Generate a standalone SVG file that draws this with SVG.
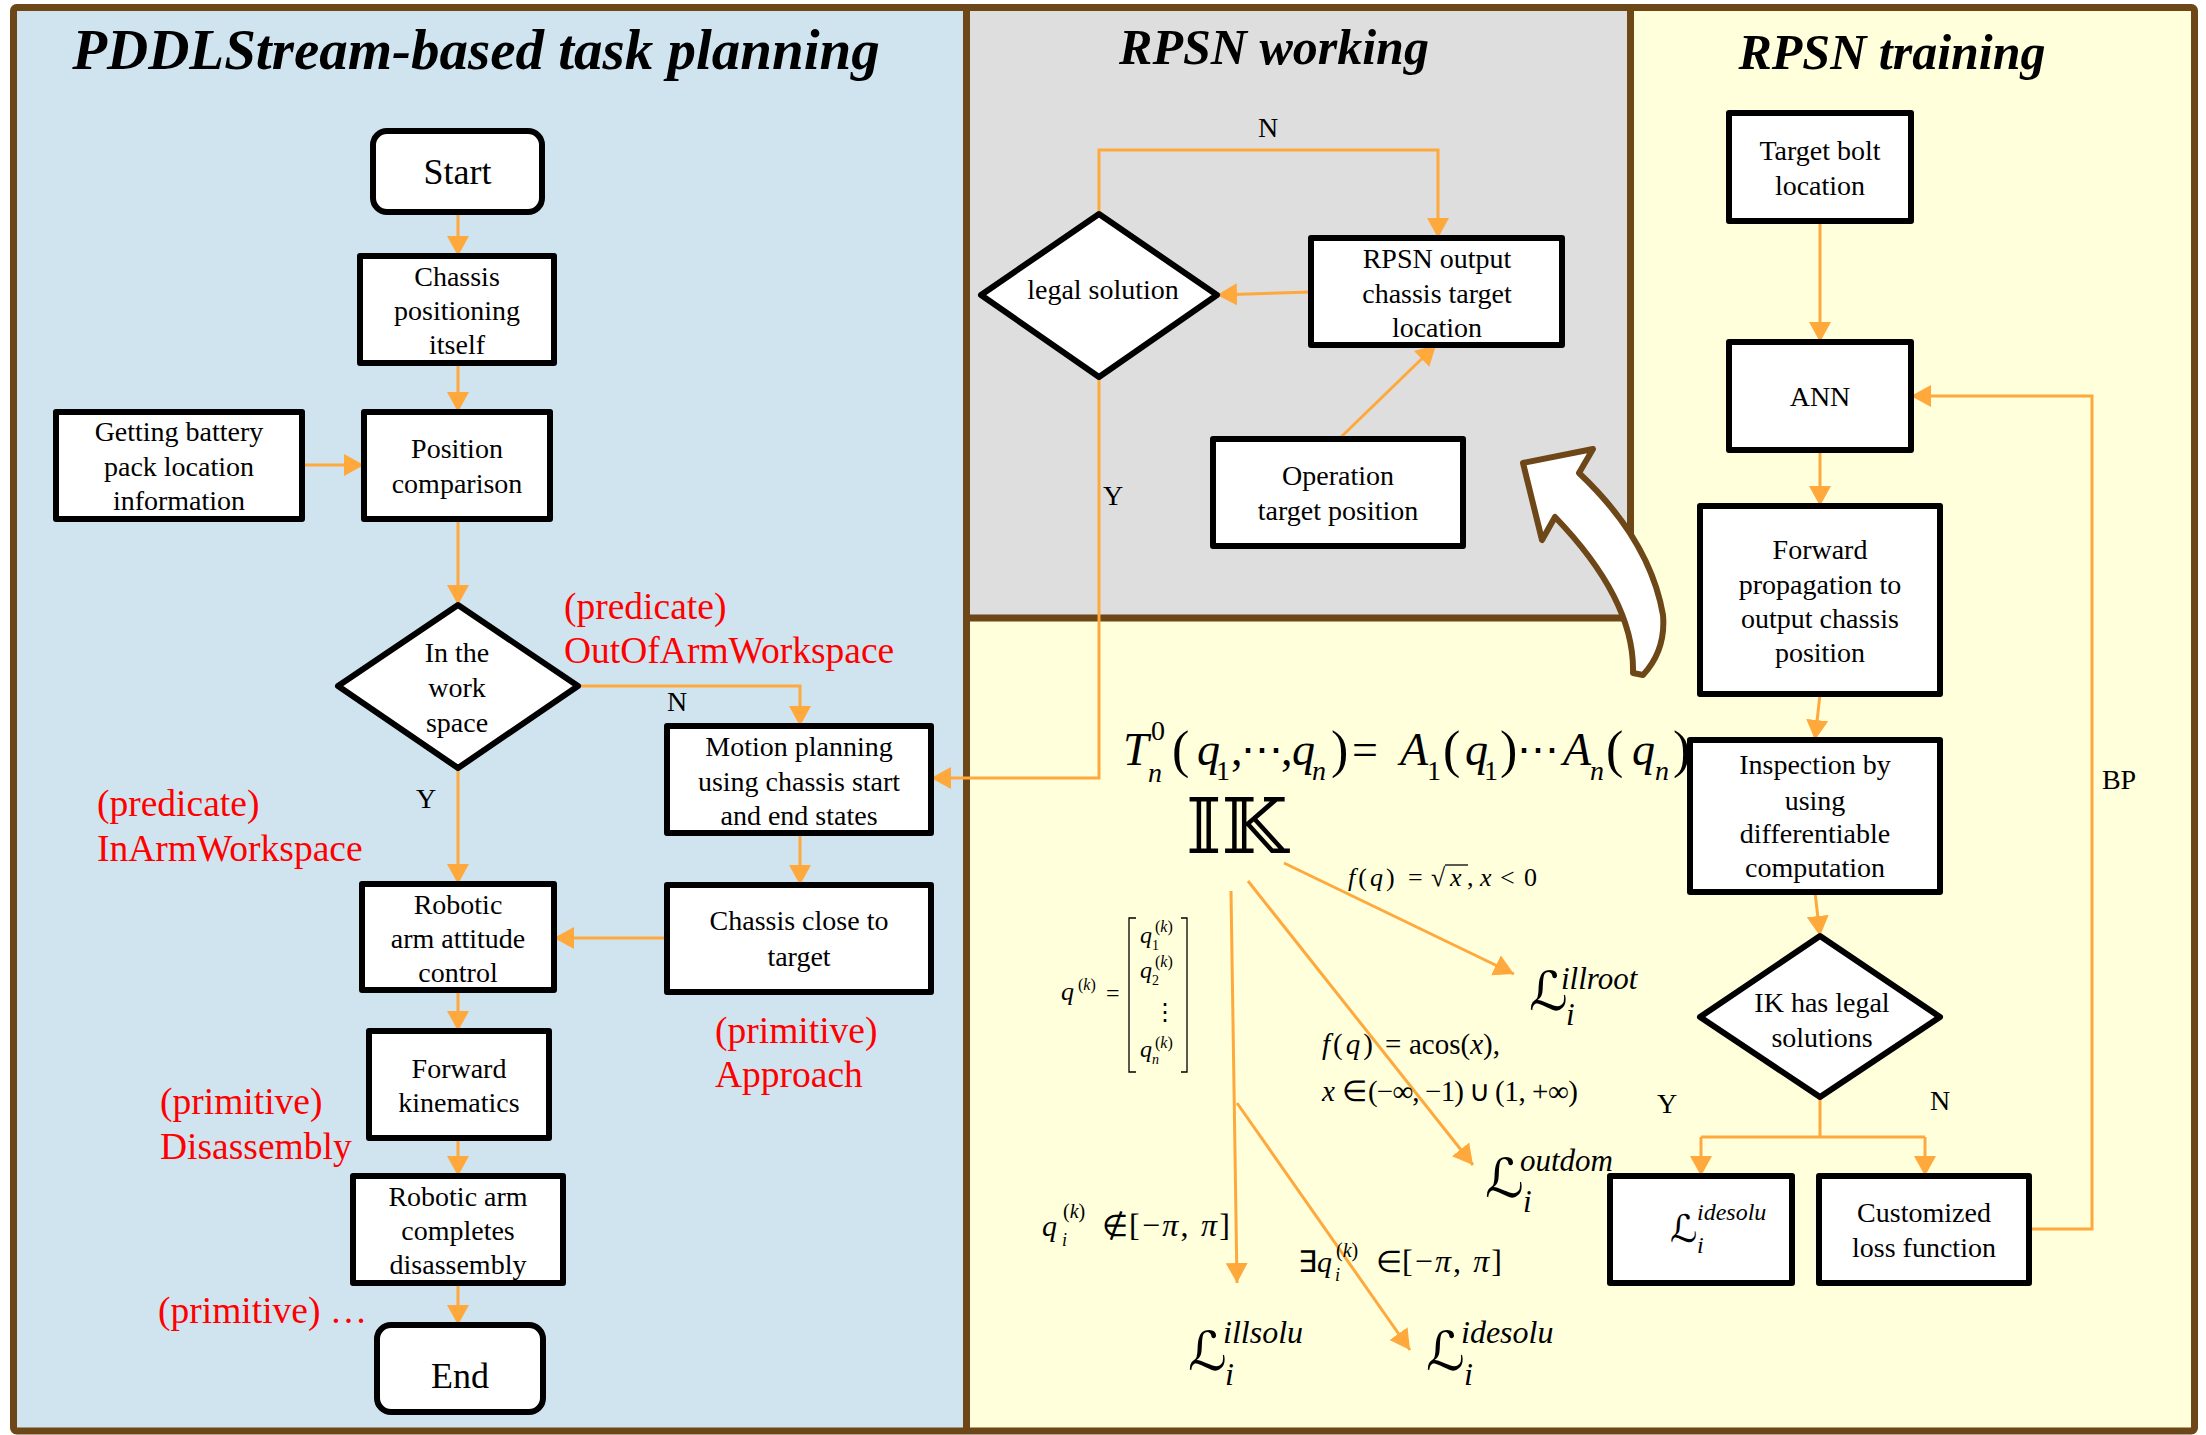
<svg xmlns="http://www.w3.org/2000/svg" width="2206" height="1435" viewBox="0 0 2206 1435">
<defs>
<style>
.bx{fill:#fff;stroke:#000;stroke-width:6;stroke-linejoin:round}
.t{font-family:"Liberation Serif","Times New Roman",serif;font-size:28px;text-anchor:middle;fill:#000}
.big{font-size:36px}
.r{font-family:"Liberation Serif","Times New Roman",serif;font-size:37.5px;fill:#FF0000}
.ttl{font-family:"Liberation Serif","Times New Roman",serif;font-weight:bold;font-style:italic;text-anchor:middle;fill:#000}
.c{fill:none;stroke:#FFA83C;stroke-width:3}
.ca{fill:none;stroke:#FFA83C;stroke-width:3;marker-end:url(#ah)}
.m{font-family:"Liberation Serif","Times New Roman",serif;fill:#000}
.i{font-style:italic}
.L{font-family:"DejaVu Serif","DejaVu Sans",serif;fill:#000;font-style:italic}
</style>
<marker id="ah" markerUnits="userSpaceOnUse" markerWidth="24" markerHeight="24" refX="20" refY="11" orient="auto"><path d="M0,0 L20,11 L0,22 Z" fill="#FFA83C"/></marker>
</defs>

<g id="panels">
<rect x="13.5" y="7.5" width="953" height="1423.5" fill="#D0E4F0"/>
<rect x="966.5" y="7.5" width="1228" height="1423.5" fill="#FFFFDC"/>
<rect x="966.5" y="7.5" width="664" height="610.5" fill="#DEDEDE"/>
<rect x="13.5" y="7.5" width="2181" height="1423.5" rx="3" fill="none" stroke="#6D4717" stroke-width="7"/>
<path d="M966.5,7.5 V1431 M1630.5,7.5 V618 H966.5" fill="none" stroke="#6D4717" stroke-width="7"/>
<text class="ttl" x="476" y="69" font-size="57">PDDLStream-based task planning</text>
<text class="ttl" x="1274" y="64" font-size="50">RPSN working</text>
<text class="ttl" x="1892" y="69" font-size="50">RPSN training</text>
</g>

<g id="big-arrow">
<path d="M1523,463 L1593,449 L1579,473 Q1650,540 1663,615 Q1666,650 1643,675 L1633,673 Q1635,600 1555,517 L1542,540 Z" fill="#fff" stroke="#6D4717" stroke-width="6" stroke-linejoin="round"/>
</g>

<g id="connectors">
<path class="ca" d="M458,212 V256"/>
<path class="ca" d="M458,363 V412"/>
<path class="ca" d="M302,465 H364"/>
<path class="ca" d="M458,519 V605"/>
<path class="ca" d="M578,686 H800 V726"/>
<path class="ca" d="M458,768 V884"/>
<path class="ca" d="M800,833 V885"/>
<path class="ca" d="M667,938 H554"/>
<path class="ca" d="M458,990 V1031"/>
<path class="ca" d="M458,1138 V1176"/>
<path class="ca" d="M458,1283 V1325"/>
<path class="ca" d="M1099,214 V150 H1438 V238"/>
<path class="ca" d="M1311,292 L1217,295"/>
<path class="ca" d="M1339,439 L1436,345"/>
<path class="ca" d="M1099,377 V778 H931"/>
<path class="ca" d="M1820,221 V342"/>
<path class="ca" d="M1820,450 V506"/>
<path class="ca" d="M1820,694 L1815,740"/>
<path class="ca" d="M1815,892 L1820,936"/>
<path class="c" d="M1820,1097 V1137 M1701,1137 H1925"/>
<path class="ca" d="M1701,1137 V1176"/>
<path class="ca" d="M1925,1137 V1176"/>
<path class="ca" d="M2029,1229 H2092 V396 H1911"/>
<path class="ca" d="M1284,863 L1514,974"/>
<path class="ca" d="M1248,881 L1473,1165"/>
<path class="ca" d="M1231,891 L1237,1283"/>
<path class="ca" d="M1237,1103 L1410,1350"/>
</g>

<g id="conn-labels" class="t">
<text x="677" y="711">N</text>
<text x="426" y="808">Y</text>
<text x="1268" y="137">N</text>
<text x="1113" y="505">Y</text>
<text x="1667" y="1113">Y</text>
<text x="1940" y="1110">N</text>
<text x="2119" y="789">BP</text>
</g>

<g id="n-start"><rect class="bx" x="373" y="131" width="169" height="81" rx="14"/><text class="t big" x="457.5" y="184">Start</text></g>
<g id="n-chassis-pos"><rect class="bx" x="360" y="256" width="194" height="107"/><text class="t"><tspan x="457" y="286">Chassis</tspan><tspan x="457" y="320">positioning</tspan><tspan x="457" y="354">itself</tspan></text></g>
<g id="n-battery"><rect class="bx" x="56" y="412" width="246" height="107"/><text class="t"><tspan x="179" y="441">Getting battery</tspan><tspan x="179" y="476">pack location</tspan><tspan x="179" y="510">information</tspan></text></g>
<g id="n-poscomp"><rect class="bx" x="364" y="412" width="186" height="107"/><text class="t"><tspan x="457" y="458">Position</tspan><tspan x="457" y="493">comparison</tspan></text></g>
<g id="n-workspace"><path class="bx" d="M458,605 L578,686 L458,768 L338,686 Z"/><text class="t"><tspan x="457" y="662">In the</tspan><tspan x="457" y="697">work</tspan><tspan x="457" y="732">space</tspan></text></g>
<g id="n-motion"><rect class="bx" x="667" y="726" width="264" height="107"/><text class="t"><tspan x="799" y="756">Motion planning</tspan><tspan x="799" y="791">using chassis start</tspan><tspan x="799" y="825">and end states</tspan></text></g>
<g id="n-close"><rect class="bx" x="667" y="885" width="264" height="107"/><text class="t"><tspan x="799" y="930">Chassis close to</tspan><tspan x="799" y="966">target</tspan></text></g>
<g id="n-attitude"><rect class="bx" x="362" y="884" width="192" height="106"/><text class="t"><tspan x="458" y="914">Robotic</tspan><tspan x="458" y="948">arm attitude</tspan><tspan x="458" y="982">control</tspan></text></g>
<g id="n-fk"><rect class="bx" x="369" y="1031" width="180" height="107"/><text class="t"><tspan x="459" y="1078">Forward</tspan><tspan x="459" y="1112">kinematics</tspan></text></g>
<g id="n-complete"><rect class="bx" x="353" y="1176" width="210" height="107"/><text class="t"><tspan x="458" y="1206">Robotic arm</tspan><tspan x="458" y="1240">completes</tspan><tspan x="458" y="1274">disassembly</tspan></text></g>
<g id="n-end"><rect class="bx" x="377" y="1325" width="166" height="87" rx="14"/><text class="t big" x="460" y="1388">End</text></g>

<g id="red-labels" class="r">
<text x="564" y="619">(predicate)</text>
<text x="564" y="663">OutOfArmWorkspace</text>
<text x="97" y="816">(predicate)</text>
<text x="97" y="861">InArmWorkspace</text>
<text x="715" y="1043">(primitive)</text>
<text x="715" y="1087">Approach</text>
<text x="160" y="1114">(primitive)</text>
<text x="160" y="1159">Disassembly</text>
<text x="158" y="1323">(primitive) …</text>
</g>

<g id="n-legal"><path class="bx" d="M1099,214 L1217,295 L1099,377 L981,295 Z"/><text class="t" x="1103" y="299">legal solution</text></g>
<g id="n-rpsn-out"><rect class="bx" x="1311" y="238" width="251" height="107"/><text class="t"><tspan x="1437" y="268">RPSN output</tspan><tspan x="1437" y="303">chassis target</tspan><tspan x="1437" y="337">location</tspan></text></g>
<g id="n-operation"><rect class="bx" x="1213" y="439" width="250" height="107"/><text class="t"><tspan x="1338" y="485">Operation</tspan><tspan x="1338" y="520">target position</tspan></text></g>

<g id="n-bolt"><rect class="bx" x="1729" y="113" width="182" height="108"/><text class="t"><tspan x="1820" y="160">Target bolt</tspan><tspan x="1820" y="195">location</tspan></text></g>
<g id="n-ann"><rect class="bx" x="1729" y="342" width="182" height="108"/><text class="t" x="1820" y="406">ANN</text></g>
<g id="n-fwdprop"><rect class="bx" x="1700" y="506" width="240" height="188"/><text class="t"><tspan x="1820" y="559">Forward</tspan><tspan x="1820" y="594">propagation to</tspan><tspan x="1820" y="628">output chassis</tspan><tspan x="1820" y="662">position</tspan></text></g>
<g id="n-inspect"><rect class="bx" x="1690" y="740" width="250" height="152"/><text class="t"><tspan x="1815" y="774">Inspection by</tspan><tspan x="1815" y="810">using</tspan><tspan x="1815" y="843">differentiable</tspan><tspan x="1815" y="877">computation</tspan></text></g>
<g id="n-iklegal"><path class="bx" d="M1820,936 L1940,1017 L1820,1097 L1700,1017 Z"/><text class="t"><tspan x="1822" y="1012">IK has legal</tspan><tspan x="1822" y="1047">solutions</tspan></text></g>
<g id="n-lidesolu-box"><rect class="bx" x="1610" y="1176" width="182" height="107"/>
<text class="L" x="1670" y="1242" font-size="38">ℒ</text>
<text class="m i" x="1697" y="1220" font-size="24">idesolu</text>
<text class="m i" x="1697" y="1253" font-size="24">i</text></g>
<g id="n-custom"><rect class="bx" x="1819" y="1176" width="210" height="107"/><text class="t"><tspan x="1924" y="1222">Customized</tspan><tspan x="1924" y="1257">loss function</tspan></text></g>

<g id="formula-fk" class="m">
<text x="1123" y="765" font-size="46" class="i">T</text>
<text x="1151" y="740" font-size="28">0</text>
<text x="1148" y="782" font-size="28" class="i">n</text>
<text x="1172" y="767" font-size="52">(</text>
<text x="1197" y="765" font-size="46" class="i">q</text>
<text x="1216" y="780" font-size="28">1</text>
<text x="1231" y="765" font-size="46">,</text>
<text x="1241" y="763" font-size="42">⋯</text>
<text x="1281" y="765" font-size="46">,</text>
<text x="1292" y="765" font-size="46" class="i">q</text>
<text x="1312" y="780" font-size="28" class="i">n</text>
<text x="1331" y="767" font-size="52">)</text>
<text x="1352" y="765" font-size="46">=</text>
<text x="1400" y="765" font-size="46" class="i">A</text>
<text x="1427" y="780" font-size="28">1</text>
<text x="1443" y="767" font-size="52">(</text>
<text x="1465" y="765" font-size="46" class="i">q</text>
<text x="1484" y="780" font-size="28">1</text>
<text x="1500" y="767" font-size="52">)</text>
<text x="1517" y="763" font-size="42">⋯</text>
<text x="1563" y="765" font-size="46" class="i">A</text>
<text x="1590" y="780" font-size="28" class="i">n</text>
<text x="1606" y="767" font-size="52">(</text>
<text x="1632" y="765" font-size="46" class="i">q</text>
<text x="1655" y="780" font-size="28" class="i">n</text>
<text x="1673" y="767" font-size="52">)</text>
</g>

<g id="ik">
<text font-family="DejaVu Serif, DejaVu Sans, serif" x="1186" y="853" font-size="76">𝕀𝕂</text>
</g>

<g id="formula-sqrt" class="m" font-size="26">
<text x="1348" y="886" letter-spacing="3"><tspan class="i">f</tspan>(<tspan class="i">q</tspan>)</text>
<text x="1408" y="886">=</text>
<text x="1431" y="886">√</text>
<path d="M1445,865 H1468" stroke="#000" stroke-width="1.3"/>
<text x="1450" y="886" class="i">x</text>
<text x="1467" y="886">,</text>
<text x="1480" y="886" class="i">x</text>
<text x="1500" y="886">&lt;</text>
<text x="1524" y="886">0</text>
</g>

<g id="l-illroot">
<text class="L" x="1529" y="1010" font-size="54">ℒ</text>
<text class="m i" x="1561" y="989" font-size="31">illroot</text>
<text class="m i" x="1566" y="1025" font-size="31">i</text>
</g>

<g id="formula-acos" class="m" font-size="29">
<text x="1322" y="1054" letter-spacing="3"><tspan class="i">f</tspan>(<tspan class="i">q</tspan>)</text>
<text x="1385" y="1054">=</text>
<text x="1409" y="1054">acos(<tspan class="i">x</tspan>),</text>
<text x="1322" y="1101" class="i">x</text>
<text x="1342" y="1101">∈</text>
<text x="1368" y="1101" textLength="96" lengthAdjust="spacing">(−∞, −1)</text>
<text x="1469" y="1101">∪</text>
<text x="1495" y="1101" textLength="83" lengthAdjust="spacing">(1, +∞)</text>
</g>

<g id="l-outdom">
<text class="L" x="1485" y="1197" font-size="54">ℒ</text>
<text class="m i" x="1520" y="1171" font-size="31">outdom</text>
<text class="m i" x="1523" y="1212" font-size="31">i</text>
</g>

<g id="matrix" class="m">
<text x="1061" y="1000" font-size="26" class="i">q</text>
<text x="1078" y="990" font-size="16">(<tspan class="i">k</tspan>)</text>
<text x="1106" y="1001" font-size="24">=</text>
<path d="M1136,918 H1129 V1072 H1136 M1181,918 H1187 V1072 H1181" fill="none" stroke="#000" stroke-width="1.3"/>
<text x="1140" y="943" font-size="24" class="i">q</text><text x="1152" y="950" font-size="14">1</text><text x="1155" y="932" font-size="16">(<tspan class="i">k</tspan>)</text>
<text x="1140" y="978" font-size="24" class="i">q</text><text x="1152" y="985" font-size="14">2</text><text x="1155" y="967" font-size="16">(<tspan class="i">k</tspan>)</text>
<text x="1153" y="1020" font-size="24">⋮</text>
<text x="1140" y="1057" font-size="24" class="i">q</text><text x="1152" y="1064" font-size="14" class="i">n</text><text x="1155" y="1048" font-size="16">(<tspan class="i">k</tspan>)</text>
</g>

<g id="formula-notin" class="m">
<text x="1042" y="1236" font-size="30" class="i">q</text>
<text x="1062" y="1246" font-size="18" class="i">i</text>
<text x="1063" y="1218" font-size="20">(<tspan class="i">k</tspan>)</text>
<text x="1102" y="1236" font-size="30">∉</text>
<text x="1129" y="1236" font-size="32" textLength="101" lengthAdjust="spacing">[−<tspan class="i">π</tspan>, <tspan class="i">π</tspan>]</text>
</g>

<g id="formula-exists" class="m">
<text x="1298" y="1272" font-size="30">∃<tspan class="i">q</tspan></text>
<text x="1335" y="1281" font-size="18" class="i">i</text>
<text x="1336" y="1257" font-size="20">(<tspan class="i">k</tspan>)</text>
<text x="1376" y="1272" font-size="30">∈</text>
<text x="1402" y="1272" font-size="32" textLength="100" lengthAdjust="spacing">[−<tspan class="i">π</tspan>, <tspan class="i">π</tspan>]</text>
</g>

<g id="l-illsolu">
<text class="L" x="1188" y="1370" font-size="54">ℒ</text>
<text class="m i" x="1223" y="1343" font-size="32">illsolu</text>
<text class="m i" x="1225" y="1385" font-size="32">i</text>
</g>

<g id="l-idesolu">
<text class="L" x="1426" y="1370" font-size="54">ℒ</text>
<text class="m i" x="1461" y="1343" font-size="32">idesolu</text>
<text class="m i" x="1464" y="1385" font-size="32">i</text>
</g>
</svg>
